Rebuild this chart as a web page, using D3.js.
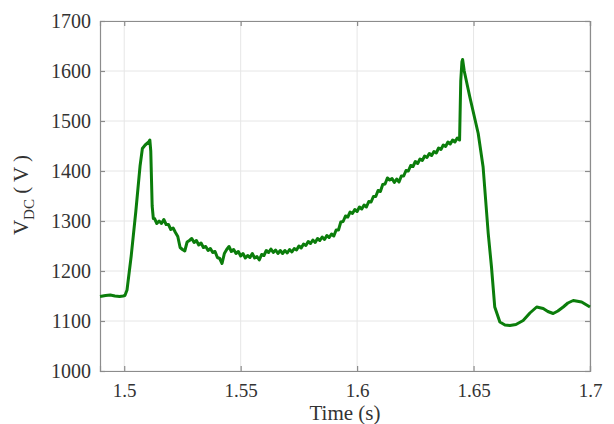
<!DOCTYPE html>
<html>
<head>
<meta charset="utf-8">
<script src="https://cdn.jsdelivr.net/npm/d3@7"></script>
<style>
    body { margin: 0; background: #fff; }
    text { font-family: 'Liberation Serif', 'Times New Roman', serif; fill: #333; }
</style>
</head>
<body>
<div id="chart"></div>
<script>
var svgWidth = 614;
var svgHeight = 424;

var margin = { top: 21, right: 24, bottom: 53, left: 100 };
var width = svgWidth - margin.left - margin.right;
var height = svgHeight - margin.top - margin.bottom;

// time (s)
var time = [
    1.4896, 1.492, 1.494, 1.496, 1.498, 1.4995, 1.5003, 1.5012, 1.5030, 1.5050,
    1.5068, 1.5078, 1.5090, 1.5105, 1.5110, 1.5114, 1.5120, 1.5125,
    1.513, 1.514, 1.515, 1.516, 1.517, 1.518, 1.519, 1.520, 1.521, 1.522,
    1.523, 1.524, 1.525, 1.526, 1.527, 1.528, 1.529, 1.530, 1.531, 1.532,
    1.533, 1.534, 1.535, 1.536, 1.537, 1.538, 1.539, 1.540, 1.541, 1.542,
    1.543, 1.544, 1.545, 1.546, 1.547, 1.548, 1.549, 1.550, 1.551, 1.552,
    1.553, 1.554, 1.555, 1.556, 1.557, 1.558, 1.559, 1.560, 1.561, 1.562,
    1.563, 1.564, 1.565, 1.566, 1.567, 1.568, 1.569, 1.570, 1.571, 1.572,
    1.573, 1.574, 1.575, 1.576, 1.577, 1.578, 1.579, 1.580, 1.581, 1.582,
    1.583, 1.584, 1.585, 1.586, 1.587, 1.588, 1.589, 1.590, 1.591, 1.592,
    1.593, 1.594, 1.595, 1.596, 1.597, 1.598, 1.599, 1.600, 1.601, 1.602,
    1.603, 1.604, 1.605, 1.606, 1.607, 1.608, 1.609, 1.610, 1.611, 1.612,
    1.613, 1.614, 1.615, 1.616, 1.617, 1.618, 1.619, 1.620, 1.621, 1.622,
    1.623, 1.624, 1.625, 1.626, 1.627, 1.628, 1.629, 1.630, 1.631, 1.632,
    1.633, 1.634, 1.635, 1.636, 1.637, 1.638, 1.639, 1.640, 1.641, 1.642,
    1.643, 1.644,
    1.6445, 1.6450, 1.6453, 1.6460, 1.6484, 1.6520, 1.6541, 1.6563, 1.6577, 1.6591,
    1.6613, 1.6635, 1.6656, 1.6682, 1.6713, 1.6742, 1.6771, 1.6799, 1.6819, 1.6842,
    1.6862, 1.6885, 1.6905, 1.6928, 1.6964, 1.7000
];

// V_DC (V)
var vdc = [
    1149, 1151, 1152, 1150, 1149, 1150, 1151, 1162, 1230, 1320,
    1410, 1445, 1452, 1458, 1462, 1440, 1330, 1305,
    1305, 1295, 1300, 1295, 1303, 1293, 1293, 1283, 1286, 1277,
    1269, 1247, 1243, 1240, 1258, 1261, 1265, 1257, 1261, 1252,
    1256, 1247, 1249, 1241, 1245, 1237, 1239, 1227, 1225, 1215,
    1235, 1243, 1249, 1239, 1243, 1235, 1239, 1230, 1235, 1226,
    1231, 1227, 1235, 1226, 1229, 1222, 1233, 1231, 1241, 1237,
    1244, 1237, 1242, 1235, 1241, 1235, 1241, 1236, 1243, 1238,
    1245, 1242, 1250, 1246, 1254, 1251, 1259, 1255, 1262, 1257,
    1265, 1261, 1268, 1263, 1271, 1267, 1274, 1270, 1282, 1282,
    1298, 1299, 1310, 1308, 1318, 1315, 1323, 1319, 1328, 1324,
    1332, 1328, 1339, 1338, 1349, 1349, 1361, 1359, 1373, 1374,
    1386, 1382, 1385, 1377, 1384, 1378, 1390, 1390, 1401, 1400,
    1411, 1409, 1419, 1415, 1424, 1421, 1430, 1427, 1435, 1431,
    1439, 1436, 1446, 1443, 1452, 1449, 1458, 1454, 1462, 1458,
    1466, 1462,
    1580, 1618, 1623, 1600, 1548, 1475, 1408, 1275, 1208, 1128,
    1098, 1092, 1091, 1093, 1101, 1116, 1128, 1125, 1119, 1115,
    1120, 1128, 1136, 1141, 1138, 1128
];

var xTicks = [1.5, 1.55, 1.6, 1.65, 1.7];
var yTicks = [1000, 1100, 1200, 1300, 1400, 1500, 1600, 1700];

var data = time.map(function(t, i) { return { t: t, v: vdc[i] }; });

var svg = d3.select('#chart')
    .append('svg')
    .attr('width', svgWidth)
    .attr('height', svgHeight);

var chartGroup = svg.append('g')
    .attr('transform', `translate(${margin.left},${margin.top})`);

var xScale = d3.scaleLinear()
    .domain([1.4896, 1.7])
    .range([0, width]);

var yScale = d3.scaleLinear()
    .domain([1000, 1700])
    .range([height, 0]);

// grid
chartGroup.append('g')
    .selectAll('line')
    .data(xTicks)
    .enter()
    .append('line')
    .attr('x1', d => xScale(d))
    .attr('x2', d => xScale(d))
    .attr('y1', 0)
    .attr('y2', height)
    .attr('stroke', '#e6e6e6')
    .attr('stroke-width', 1);

chartGroup.append('g')
    .selectAll('line')
    .data(yTicks)
    .enter()
    .append('line')
    .attr('x1', 0)
    .attr('x2', width)
    .attr('y1', d => yScale(d))
    .attr('y2', d => yScale(d))
    .attr('stroke', '#e6e6e6')
    .attr('stroke-width', 1);

// axes, ticks inward like matlab
var bottomAxis = d3.axisBottom(xScale).tickValues(xTicks).tickSize(-5).tickPadding(13)
    .tickFormat(d3.format('~g'));
var leftAxis = d3.axisLeft(yScale).tickValues(yTicks).tickSize(-5).tickPadding(9)
    .tickFormat(d3.format('d'));
var topAxis = d3.axisTop(xScale).tickValues(xTicks).tickSize(-5).tickFormat('');
var rightAxis = d3.axisRight(yScale).tickValues(yTicks).tickSize(-5).tickFormat('');

chartGroup.append('g')
    .attr('class', 'axis xaxis')
    .attr('transform', `translate(0, ${height})`)
    .call(bottomAxis);

chartGroup.append('g')
    .attr('class', 'axis')
    .call(leftAxis);

chartGroup.append('g')
    .attr('class', 'axis')
    .call(topAxis);

chartGroup.append('g')
    .attr('class', 'axis')
    .attr('transform', `translate(${width}, 0)`)
    .call(rightAxis);

chartGroup.selectAll('.axis path, .axis line')
    .attr('stroke', '#8c8c8c')
    .attr('stroke-width', 1.2);

chartGroup.selectAll('.axis text')
    .style('font-size', '20px')
    .attr('fill', '#333');

chartGroup.selectAll('.xaxis text')
    .style('font-size', '19px');

// line
var line = d3.line()
    .x(d => xScale(d.t))
    .y(d => yScale(d.v));

chartGroup.append('path')
    .datum(data)
    .attr('fill', 'none')
    .attr('stroke', '#0b7d0b')
    .attr('stroke-width', 3)
    .attr('stroke-linejoin', 'round')
    .attr('d', line);

// labels
var yLabel = chartGroup.append('text')
    .attr('transform', `translate(${28 - margin.left}, ${195 - margin.top}) rotate(-90)`)
    .style('text-anchor', 'middle')
    .style('font-size', '21px');
yLabel.append('tspan').text('V');
yLabel.append('tspan').attr('dy', 6).style('font-size', '15px').text('DC');
yLabel.append('tspan').attr('dy', -6).text(' ( V )');

chartGroup.append('text')
    .attr('x', width / 2)
    .attr('y', height + 49)
    .style('text-anchor', 'middle')
    .style('font-size', '21px')
    .text('Time (s)');
</script>
</body>
</html>
